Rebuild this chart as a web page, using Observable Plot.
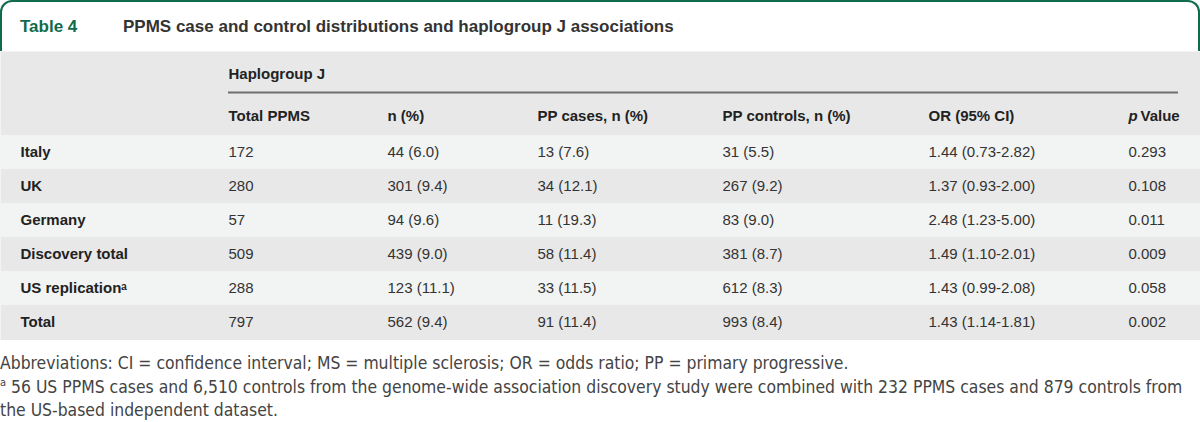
<!DOCTYPE html>
<html>
<head>
<meta charset="utf-8">
<script src="https://cdn.jsdelivr.net/npm/d3@7"></script>
<script src="https://cdn.jsdelivr.net/npm/@observablehq/plot@0.6"></script>
<style>
  html, body { margin: 0; padding: 0; background: #ffffff; }
  #wrap { width: 1200px; }
  .title-box {
    box-sizing: border-box;
    height: 51px;
    border: 2px solid #0f6b4b;
    border-bottom: none;
    border-radius: 12px 12px 0 0;
    display: flex;
    align-items: center;
    font-family: "Liberation Sans", Arial, sans-serif;
    font-size: 17px;
    padding-left: 18px;
  }
  .title-box .num { color: #0f6b4b; font-weight: 600; width: 103px; }
  .title-box .txt { color: #333333; font-weight: 600; }
  #chart svg { display: block; }
  .foot {
    font-family: "DejaVu Sans Condensed", "Liberation Sans Narrow", sans-serif;
    font-size: 17.4px;
    color: #444444;
    line-height: 23.5px;
    padding: 12px 0 0 0;
    white-space: nowrap;
  }
  .foot sup { font-size: 11px; line-height: 0; }
</style>
</head>
<body>
<div id="wrap">
  <div class="title-box"><span class="num">Table 4</span><span class="txt">PPMS case and control distributions and haplogroup J associations</span></div>
  <div id="chart"></div>
  <div class="foot">
    <div>Abbreviations: CI = confidence interval; MS = multiple sclerosis; OR = odds ratio; PP = primary progressive.</div>
    <div><sup>a</sup> 56 US PPMS cases and 6,510 controls from the genome-wide association discovery study were combined with 232 PPMS cases and 879 controls from</div>
    <div>the US-based independent dataset.</div>
  </div>
</div>
<script>
// ---- data ----
const groupHeader = "Haplogroup J";
const columnHeaders = ["Total PPMS", "n (%)", "PP cases, n (%)", "PP controls, n (%)", "OR (95% CI)", "p Value"];
const rowLabels = ["Italy", "UK", "Germany", "Discovery total", "US replication\u1d43", "Total"];
const totalPPMS = ["172", "280", "57", "509", "288", "797"];
const haploN = ["44 (6.0)", "301 (9.4)", "94 (9.6)", "439 (9.0)", "123 (11.1)", "562 (9.4)"];
const ppCases = ["13 (7.6)", "34 (12.1)", "11 (19.3)", "58 (11.4)", "33 (11.5)", "91 (11.4)"];
const ppControls = ["31 (5.5)", "267 (9.2)", "83 (9.0)", "381 (8.7)", "612 (8.3)", "993 (8.4)"];
const oddsRatio = ["1.44 (0.73-2.82)", "1.37 (0.93-2.00)", "2.48 (1.23-5.00)", "1.49 (1.10-2.01)", "1.43 (0.99-2.08)", "1.43 (1.14-1.81)"];
const pValues = ["0.293", "0.108", "0.011", "0.009", "0.058", "0.002"];

// ---- layout (table column anchors, in page pixels) ----
const labelX = 20;
const colX = [228, 387, 537, 722, 928, 1128];
const ruleEnd = 1178;

const columns = [totalPPMS, haploN, ppCases, ppControls, oddsRatio, pValues];
const cells = [];
rowLabels.forEach((r, i) => columns.forEach((col, j) => cells.push({row: r, col: j, text: col[i]})));
const headerCells = columnHeaders.slice(0, 5).map((t, j) => ({col: j, text: t}));
const lightRows = rowLabels.filter((d, i) => i % 2 === 0);

const font = "'Liberation Sans', Arial, sans-serif";

const chart = Plot.plot({
  width: 1200,
  height: 289,
  margin: 0,
  x: {domain: [0, 1200], range: [0, 1200], axis: null},
  y: {type: "band", domain: ["__group", "__head", ...rowLabels], range: [16, 288], padding: 0, axis: null},
  style: {fontFamily: font, fontSize: "15px", background: "#ffffff"},
  marks: [
    Plot.frame({fill: "#e8e8e8", stroke: null}),
    Plot.barX(lightRows, {x1: 0, x2: 1200, y: d => d, fill: "#f2f3f3"}),
    Plot.ruleY(["__group"], {y: d => d, x1: colX[0], x2: ruleEnd, stroke: "#6e6e6e", strokeWidth: 2, dy: 8}),
    Plot.text([groupHeader], {x: colX[0], y: () => "__group", text: d => d, textAnchor: "start", dy: -10, fill: "#222", fontWeight: 600}),
    Plot.text(headerCells, {x: d => colX[d.col], y: () => "__head", text: "text", textAnchor: "start", dy: -2, fill: "#222", fontWeight: 600}),
    Plot.text(["p"], {x: colX[5], y: () => "__head", text: d => d, textAnchor: "start", dy: -2, fill: "#222", fontStyle: "italic", fontWeight: 600}),
    Plot.text(["Value"], {x: colX[5] + 12, y: () => "__head", text: d => d, textAnchor: "start", dy: -2, fill: "#222", fontWeight: 600}),
    Plot.text(rowLabels, {x: labelX, y: d => d, text: d => d, textAnchor: "start", fill: "#222", fontWeight: 600}),
    Plot.text(cells, {x: d => colX[d.col], y: "row", text: "text", textAnchor: "start", fill: "#333"})
  ]
});
document.getElementById("chart").appendChild(chart);
</script>
</body>
</html>
